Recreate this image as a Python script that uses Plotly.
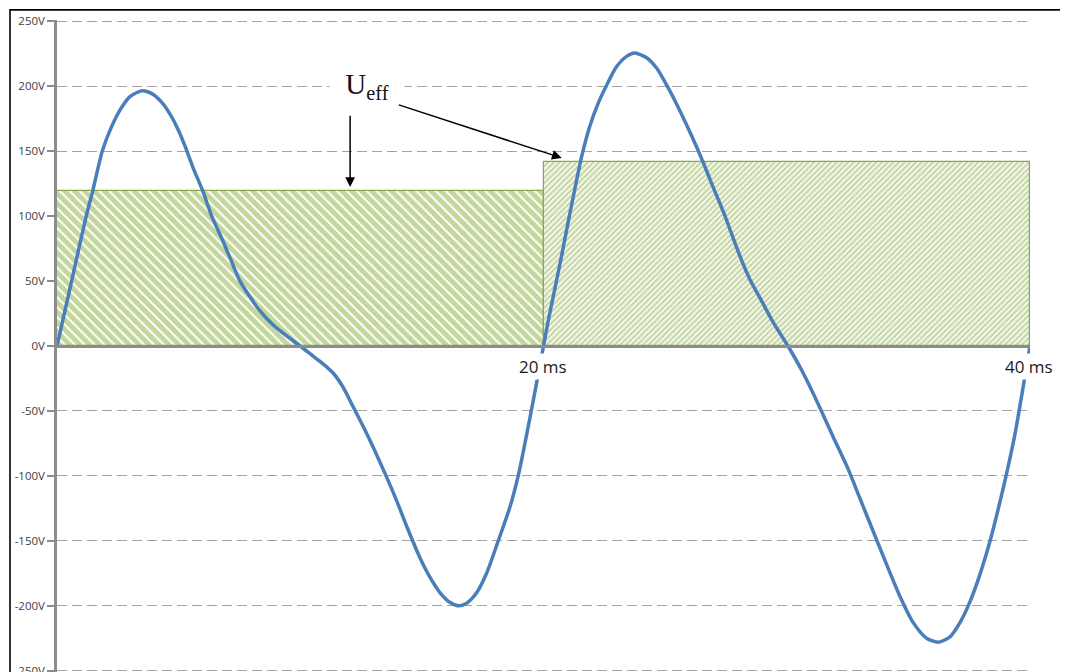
import plotly.graph_objects as go

# ---- data ----
t_ms = [0, 0.6, 1.2, 1.45, 1.86, 2.2, 2.6, 3.0, 3.5, 3.9, 4.3, 4.7, 5.0, 5.26, 5.6, 6.0,
        6.36, 6.77, 7.11, 7.52, 7.93, 8.3, 8.9, 9.5, 10.0, 10.54, 10.95, 11.36, 11.77, 12.18,
        12.59, 13.0, 13.41, 13.96, 14.38, 14.92, 15.33, 15.75, 16.16, 16.5, 16.84, 17.25, 17.66,
        18.14, 18.62, 18.96, 19.3, 19.6, 19.8, 20.0,
        20.2, 20.4, 20.75, 21.02, 21.3, 21.57, 21.9, 22.25, 22.6, 23.0, 23.42, 23.76, 24.24,
        24.65, 25.06, 25.48, 25.89, 26.3, 26.57, 26.98, 27.4, 27.74, 28.08, 28.49, 28.9, 29.45,
        30.05, 30.68, 31.3, 31.91, 32.53, 33.0, 33.56, 34.1, 34.66, 35.2, 35.75, 36.23, 36.71,
        37.12, 37.53, 37.94, 38.36, 38.7, 39.04, 39.38, 39.66, 40.0]
u_volt = [0, 50, 100, 118, 150, 167, 182, 192, 196.5, 194.3, 187.7, 176.8, 165.7, 154, 137, 119,
          100, 83, 68, 50, 38, 28, 16, 7, 0, -8, -14, -21, -32, -47,
          -62, -78, -95, -119, -139, -163, -178, -190, -197.5, -200, -198, -190, -175,
          -150, -124, -100, -69, -40, -20, 0,
          20, 38, 70, 96, 122, 146, 169, 187, 201, 215, 223, 225.5, 222,
          214, 201, 186, 170, 153, 141, 122, 103, 86, 69, 51, 37, 18,
          0, -21, -45, -70, -95, -117, -143, -168, -193, -213, -225, -228, -224,
          -213, -197, -176, -150, -125, -98, -68, -38, 0]

period_mid = [10, 30]          # centre of each 20 ms window
period_len = [20, 20]
u_eff = [119.5, 141.5]

y_ticks = [-250, -200, -150, -100, -50, 0, 50, 100, 150, 200, 250]
y_tick_text = [f"{v}V" for v in y_ticks]
x_labels = [20, 40]
x_label_text = ["20 ms", "40 ms"]

fig = go.Figure()

fig.add_trace(go.Bar(
    x=[period_mid[0]], y=[u_eff[0]], width=[period_len[0]], base=0,
    marker=dict(color="#c3d69b",
                line=dict(color="#8aa653", width=1.2),
                pattern=dict(shape="\\", bgcolor="#c3d69b", fgcolor="#ffffff",
                             size=7, solidity=0.28, fillmode="replace")),
    showlegend=False, hoverinfo="skip"))
fig.add_trace(go.Bar(
    x=[period_mid[1]], y=[u_eff[1]], width=[period_len[1]], base=0,
    marker=dict(color="#ffffff",
                line=dict(color="#8aa653", width=1.2),
                pattern=dict(shape="/", bgcolor="#f4f7ec", fgcolor="#bfd39a",
                             size=4, solidity=0.45, fillmode="replace")),
    showlegend=False, hoverinfo="skip"))

fig.add_trace(go.Scatter(
    x=t_ms, y=u_volt, mode="lines",
    line=dict(color="#4a7ebb", width=3.5, shape="spline", smoothing=0.7),
    showlegend=False, hoverinfo="skip"))

annotations = []
for xv, txt in zip(x_labels, x_label_text):
    annotations.append(dict(x=xv, y=0, xref="x", yref="y", text=txt, showarrow=False,
                            yanchor="top", yshift=-7, xshift=-1,
                            font=dict(family="Open Sans", size=17, color="#1a1a1a"),
                            bgcolor="#ffffff", borderpad=1))

annotations.append(dict(x=12.73, y=200, xref="x", yref="y",
                        text="U<sub>eff</sub>", showarrow=False,
                        xanchor="center", yanchor="middle", width=72,
                        font=dict(family="Liberation Serif", size=29, color="#111111"),
                        bgcolor="#ffffff"))
annotations.append(dict(x=12.05, y=122.5, ax=12.05, ay=178.5,
                        xref="x", yref="y", axref="x", ayref="y", text="",
                        showarrow=True, arrowhead=2, arrowsize=1.3, arrowwidth=1.5,
                        arrowcolor="#000000"))
annotations.append(dict(x=20.75, y=144.8, ax=13.99, ay=186,
                        xref="x", yref="y", axref="x", ayref="y", text="",
                        showarrow=True, arrowhead=2, arrowsize=1.3, arrowwidth=1.5,
                        arrowcolor="#000000"))

# the page body adds an 8px offset, so the figure is 8px smaller than the window
fig.update_layout(
    width=1060, height=664,
    margin=dict(l=49, r=38, t=12, b=0, autoexpand=False),
    paper_bgcolor="#ffffff", plot_bgcolor="#ffffff",
    barmode="overlay", bargap=0,
    annotations=annotations,
    shapes=[dict(type="rect", xref="paper", yref="paper",
                 x0=-0.0483, x1=1.08, y0=-0.06, y1=1.0155,
                 line=dict(color="#000000", width=1.6), fillcolor="rgba(0,0,0,0)",
                 layer="above")],
    xaxis=dict(range=[0, 40], showgrid=False, zeroline=False, showticklabels=False,
               ticks="", showline=True, linecolor="#8c8c8c", linewidth=2.5,
               anchor="free", position=0.5, automargin=False),
    yaxis=dict(range=[-251, 251], tickvals=y_ticks, ticktext=y_tick_text,
               ticks="outside", ticklen=7, tickwidth=1.5, tickcolor="#8c8c8c",
               showline=True, linecolor="#8c8c8c", linewidth=2.5,
               showgrid=True, gridcolor="#a3a3a3", gridwidth=1.4, griddash="10px,5px",
               zeroline=False, ticklabeloverflow="allow", automargin=False,
               tickfont=dict(family="Open Sans", size=11.5, color="#404040")),
)

fig.write_html("out.html")
